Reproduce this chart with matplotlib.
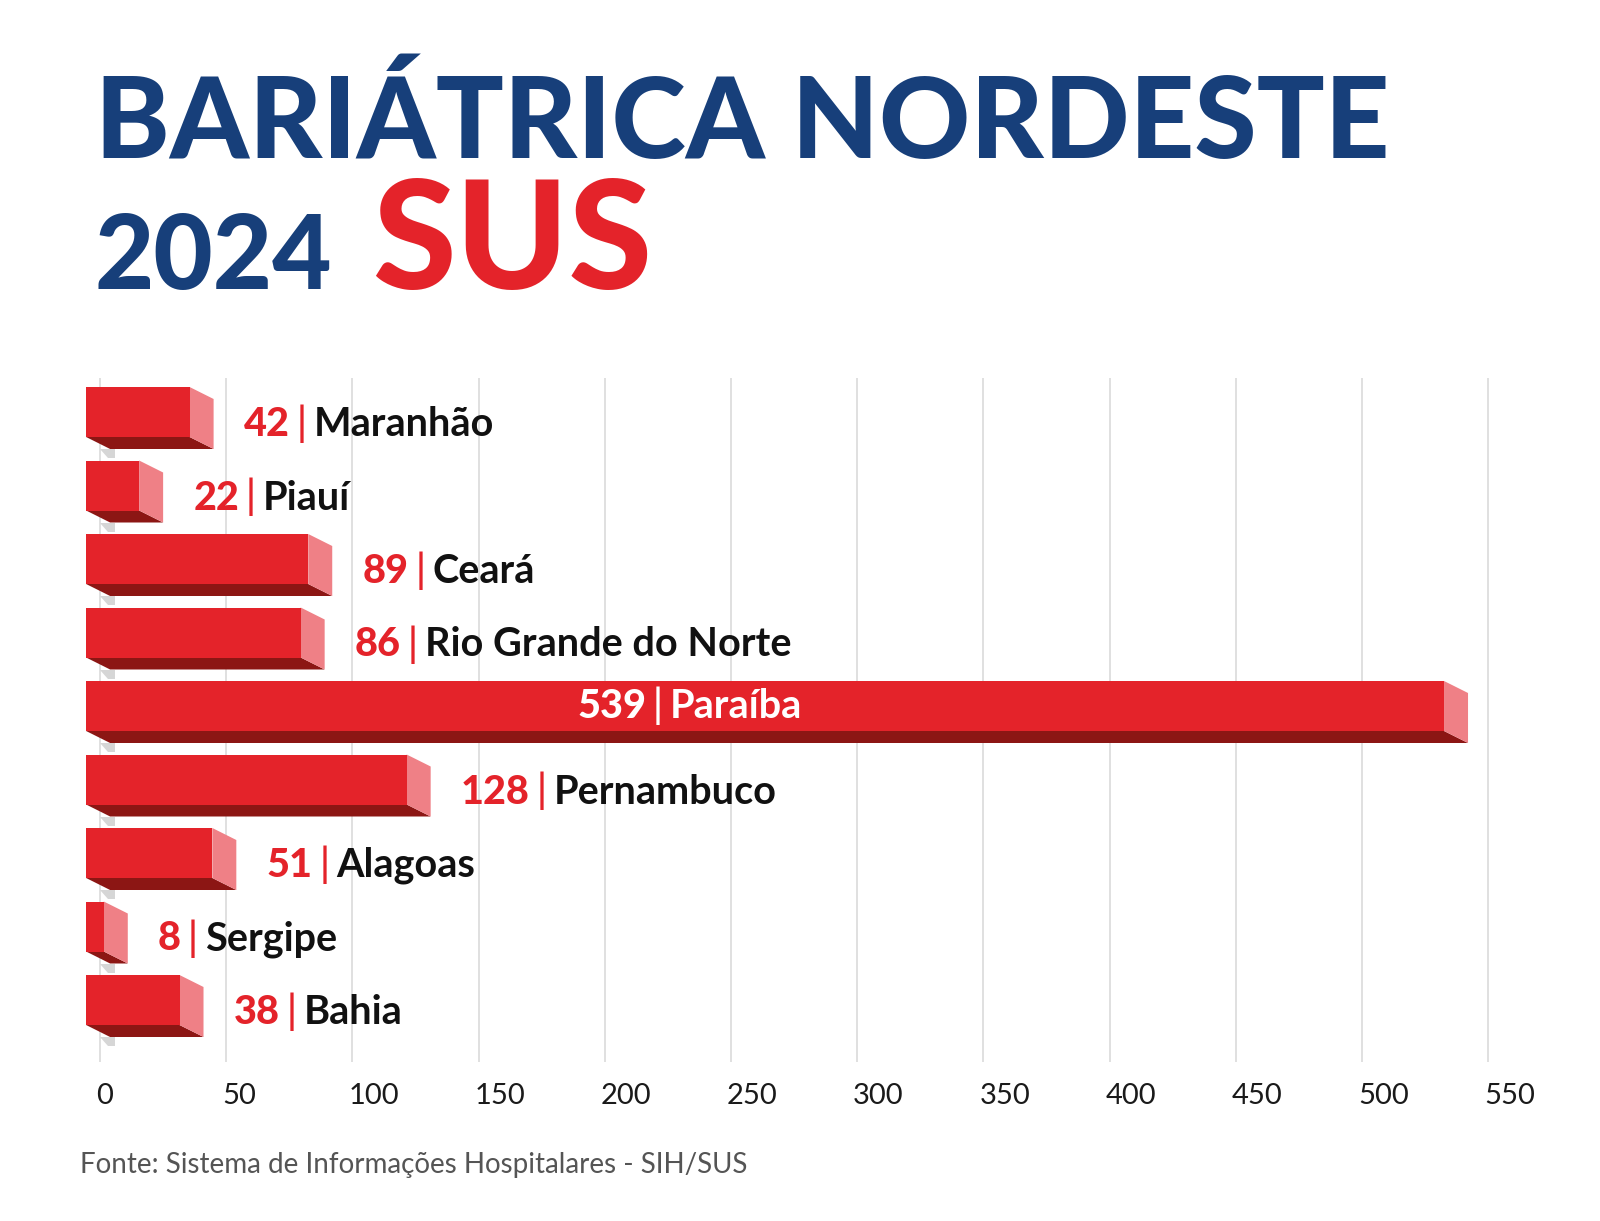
import matplotlib.pyplot as plt
from matplotlib.transforms import ScaledTranslation

estados = ['Maranhão', 'Piauí', 'Ceará', 'Rio Grande do Norte', 'Paraíba',
           'Pernambuco', 'Alagoas', 'Sergipe', 'Bahia']
cirurgias = [42, 22, 89, 86, 539, 128, 51, 8, 38]
ticks = [0, 50, 100, 150, 200, 250, 300, 350, 400, 450, 500, 550]

titulo = 'BARIÁTRICA NORDESTE'
ano = '2024'
destaque = 'SUS'
fonte = 'Fonte: Sistema de Informações Hospitalares - SIH/SUS'

# cores
azul = '#173F7A'
vermelho = '#E4232A'
rosa = '#EF8086'
escuro = '#8C1614'
sombra = '#D6D6D6'

plt.rcParams['font.family'] = ['Lato', 'DejaVu Sans']

W, H = 1600, 1221
fig = plt.figure(figsize=(W / 100, H / 100), dpi=100)

# eixo: 0 em 100 px, 550 em 1488 px ; linhas a cada 73.5 px
esc_x = 2.524
esc_y = 73.5
xmin, xmax = -10, 590
topo, base = 378, 1062
left = (100 + xmin * esc_x) / W
width = (xmax - xmin) * esc_x / W
ax = fig.add_axes([left, 1 - base / H, width, (base - topo) / H])
ax.set_xlim(xmin, xmax)
ax.set_ylim((base - 412) / esc_y, -(412 - topo) / esc_y)

ax.set_xticks(ticks)
ax.set_yticks([])
ax.tick_params(axis='x', length=0, pad=15, labelsize=21, labelcolor='#1a1a1a')
# rotulos do eixo alinhados a esquerda da linha, como no original
desloc = ScaledTranslation(-4 / 100, 0, fig.dpi_scale_trans)
for lab in ax.get_xticklabels():
    lab.set_horizontalalignment('left')
    lab.set_transform(lab.get_transform() + desloc)
for s in ax.spines.values():
    s.set_visible(False)
ax.grid(axis='x', color='#DADADA', linewidth=1.2)
ax.set_axisbelow(True)

# barras 3D
x0 = -5.5
alt = 50 / esc_y
dx = 24 / esc_x
dy = 12 / esc_y
for i, v in enumerate(cirurgias):
    xf = v - 6.5
    topo_b = i - alt / 2
    bot = i + alt / 2
    # sombra cinza
    ax.fill([x0 + 5.5, x0 + 11.5, x0 + 11.5, x0 + 8.5],
            [bot + dy, bot + dy, bot + dy + 9 / esc_y, bot + dy + 9 / esc_y],
            color=sombra, lw=0, zorder=2)
    # face inferior
    ax.fill([x0, xf, xf + dx, x0 + dx], [bot, bot, bot + dy, bot + dy],
            color=escuro, lw=0, zorder=3)
    # face lateral
    ax.fill([xf, xf + dx, xf + dx, xf], [topo_b, topo_b + dy, bot + dy, bot],
            color=rosa, lw=0, zorder=3)
    # face frontal
    ax.barh(i, xf - x0, left=x0, height=alt, color=vermelho, zorder=4)


def rotulo(x, y, valor, nome, cor_valor, cor_nome):
    t1 = ax.text(x, y, str(valor), color=cor_valor, fontsize=28.5,
                 fontweight='black', va='baseline', ha='left', zorder=5)
    t2 = ax.annotate('|', xy=(1, 0), xycoords=t1, xytext=(5, 0),
                     textcoords='offset points', color=cor_valor, fontsize=28.5,
                     fontweight='semibold', va='bottom', ha='left', zorder=5)
    ax.annotate(nome, xy=(1, 0), xycoords=t2, xytext=(5, 0),
                textcoords='offset points', color=cor_nome, fontsize=28.5,
                fontweight='bold', va='bottom', ha='left', zorder=5)


for i, (v, nome) in enumerate(zip(cirurgias, estados)):
    if v > 300:
        rotulo(189, i + 12 / esc_y, v, nome, 'white', 'white')
    else:
        rotulo(v + 15, i + 24 / esc_y, v, nome, vermelho, '#111111')

# titulo
r = fig.canvas.get_renderer()


def ajusta(t, largura):
    w = t.get_window_extent(r).width
    t.set_fontsize(t.get_fontsize() * largura / w)


t = fig.text(95 / W, 1 - 158 / H, titulo, fontsize=80, fontweight='black',
             color=azul, va='baseline', ha='left')
ajusta(t, 1295)
t = fig.text(95 / W, 1 - 289 / H, ano, fontsize=80, fontweight='black',
             color=azul, va='baseline', ha='left')
ajusta(t, 238)
t = fig.text(372 / W, 1 - 289 / H, destaque, fontsize=100, fontweight='black',
             color=vermelho, va='baseline', ha='left')
ajusta(t, 280)

fig.text(80 / W, 1 - 1173 / H, fonte, fontsize=20, color='#555555',
         va='baseline', ha='left')

fig.savefig('out.png', dpi=100, facecolor='white')
